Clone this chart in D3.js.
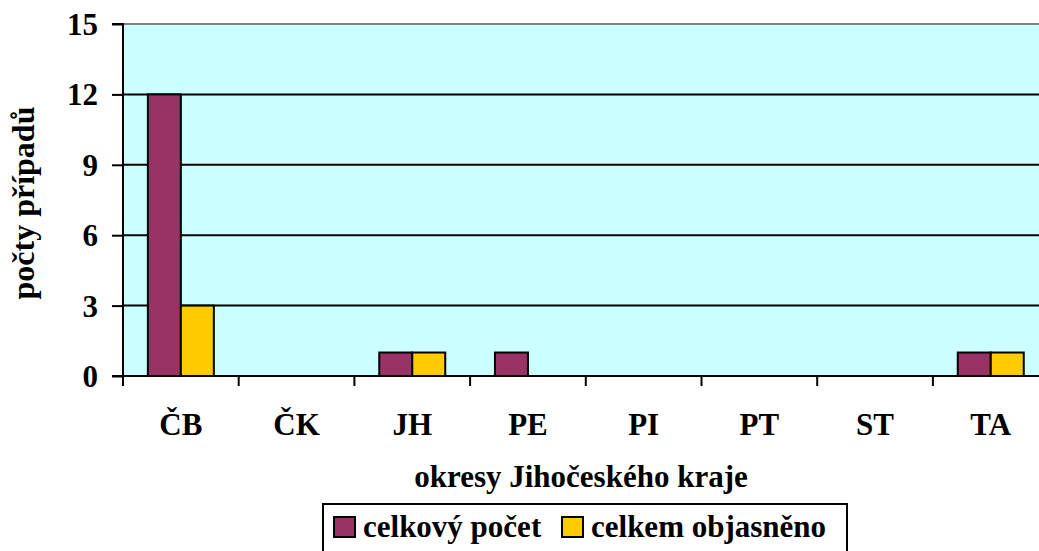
<!DOCTYPE html>
<html><head><meta charset="utf-8">
<script src="https://cdn.jsdelivr.net/npm/d3@7"></script>
<style>body{margin:0;background:#fff;overflow:hidden}svg{display:block}</style>
</head><body>
<script>
const categories = ["ČB","ČK","JH","PE","PI","PT","ST","TA"];
const seriesNames = ["celkový počet","celkem objasněno"];
const celkovyPocet = [12,0,1,1,0,0,0,1];
const celkemObjasneno = [3,0,1,0,0,0,0,1];
const yTicks = [0,3,6,9,12,15];
const colors = ["#993366","#FFCC00"];

const FONT = "Liberation Serif";
const W = 1039, H = 551;
const pL = 123, pR = 1048.6, pT = 24, pB = 376;
const svg = d3.select("body").append("svg").attr("width", W).attr("height", H);

const x = d3.scaleBand().domain(categories).range([pL, pR]);
const y = d3.scaleLinear().domain([0,15]).range([pB, pT]);

svg.append("rect").attr("x", pL).attr("y", pT).attr("width", pR-pL).attr("height", pB-pT).attr("fill","#CCFFFF");
svg.append("line").attr("x1", pL).attr("x2", pR).attr("y1", pT).attr("y2", pT).attr("stroke","#808080").attr("stroke-width",2);
svg.append("g").selectAll("line").data(yTicks.filter(d=>d>0 && d<15)).join("line")
  .attr("x1", pL).attr("x2", pR).attr("y1", d=>y(d)).attr("y2", d=>y(d)).attr("stroke","#000").attr("stroke-width",2);

const series = [celkovyPocet, celkemObjasneno];
const bw = 33;
series.forEach((vals, si) => {
  svg.append("g").selectAll("rect").data(categories.map((c,i)=>({c, v: vals[i]})).filter(d=>d.v>0)).join("rect")
    .attr("x", d => x(d.c) + x.bandwidth()/2 - bw + si*bw)
    .attr("y", d => y(d.v))
    .attr("width", bw)
    .attr("height", d => y(0) - y(d.v))
    .attr("fill", colors[si]).attr("stroke","#000").attr("stroke-width",2);
});

const yAxis = d3.axisLeft(y).tickValues(yTicks).tickSize(11).tickPadding(14).tickFormat(d3.format("d"));
const gy = svg.append("g").attr("transform",`translate(${pL},0)`).call(yAxis);
gy.select(".domain").attr("stroke","#000").attr("stroke-width",2).attr("d",`M-11,${pT}H0V${pB}H-11`);
gy.selectAll(".tick line").attr("stroke","#000").attr("stroke-width",2);
gy.selectAll(".tick text").attr("font-size",31).attr("font-family",FONT).attr("font-weight","bold").attr("fill","#000").attr("dy","0.34em");

const xTickPos = categories.map(c=>x(c)).concat([pR]);
const gx = svg.append("g");
gx.append("line").attr("x1", pL-11).attr("x2", pR).attr("y1", pB).attr("y2", pB).attr("stroke","#000").attr("stroke-width",2);
gx.selectAll("line.t").data(xTickPos).join("line").attr("class","t")
  .attr("x1", d=>d).attr("x2", d=>d).attr("y1", pB).attr("y2", pB+10).attr("stroke","#000").attr("stroke-width",2);
gx.selectAll("text").data(categories).join("text")
  .attr("x", d=>x(d)+x.bandwidth()/2).attr("y", 435).attr("text-anchor","middle")
  .attr("font-family",FONT).attr("font-weight","bold").attr("font-size",31).text(d=>d);

svg.append("text").attr("x", 581).attr("y", 487).attr("text-anchor","middle")
  .attr("font-family",FONT).attr("font-weight","bold").attr("font-size",31).text("okresy Jihočeského kraje");
svg.append("text").attr("transform","translate(34,203) rotate(-90)").attr("text-anchor","middle")
  .attr("font-family",FONT).attr("font-weight","bold").attr("font-size",32).text("počty případů");

const lg = svg.append("g");
lg.append("rect").attr("x",323).attr("y",504).attr("width",524).attr("height",60).attr("fill","#fff").attr("stroke","#000").attr("stroke-width",2);
const legX = [334, 562];
seriesNames.forEach((n,i)=>{
  lg.append("rect").attr("x",legX[i]).attr("y",517).attr("width",21).attr("height",20).attr("fill",colors[i]).attr("stroke","#000").attr("stroke-width",2);
  lg.append("text").attr("x",legX[i]+29).attr("y",537)
    .attr("font-family",FONT).attr("font-weight","bold").attr("font-size",31).text(n);
});
</script>
</body></html>
